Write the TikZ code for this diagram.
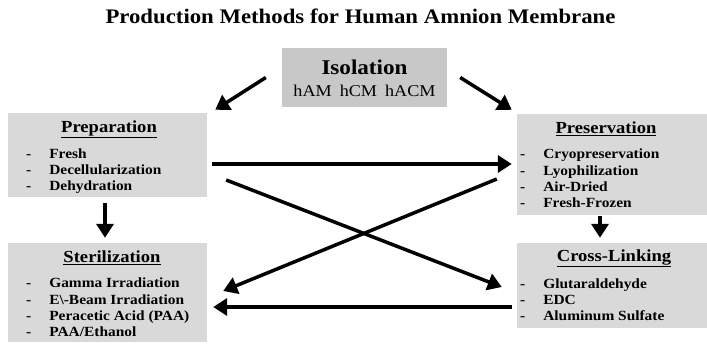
\documentclass[tikz,border=0pt]{standalone}
\usepackage{fontspec}
\setmainfont{Liberation Serif}[FakeStretch=1.1]
\usepackage{tikz}
\usetikzlibrary{arrows.meta}
\tikzset{
	grybox/.style={shape=rectangle,fill=boxgray,draw=none,inner sep=0pt},
	isobox/.style={shape=rectangle,fill=isogray,draw=none,inner sep=0pt},
	head/.style={shape=rectangle,inner sep=0pt,font=\fontsize{16.9}{19}\selectfont\bfseries},
	items/.style={shape=rectangle,inner sep=0pt,anchor=west,font=\fontsize{14}{16.2}\selectfont\bfseries},
	arr/.style={line width=3.5pt,-{Triangle[length=14pt,width=17pt]}}
}
\definecolor{boxgray}{RGB}{217,217,217}
\definecolor{isogray}{RGB}{200,200,200}
\newcommand{\lst}[1]{\begin{tabular}{@{}l@{\hspace{18pt}}l@{}}#1\end{tabular}}

\begin{document}
\begin{tikzpicture}[x=1pt,y=-1pt]
	\useasboundingbox (0,0) rectangle (707,343);
	\node[shape=rectangle,font=\fontsize{20.7}{24}\selectfont\bfseries](t) at (360.5,16) {Production Methods for Human Amnion Membrane};
	\node[isobox,minimum width=165,minimum height=59](iso) at (364.5,77.5) {};
	\node[grybox,minimum width=199,minimum height=84](prep) at (107.5,155) {};
	\node[grybox,minimum width=199,minimum height=99](ster) at (107.5,292.5) {};
	\node[grybox,minimum width=190,minimum height=101](pres) at (612,164.5) {};
	\node[grybox,minimum width=190,minimum height=85](cross) at (612,285.5) {};
	\node[shape=rectangle,inner sep=0pt,font=\fontsize{21}{22}\selectfont\bfseries](isot) at (364.5,67) {Isolation};
	\node[shape=rectangle,inner sep=0pt,font=\fontsize{16.5}{19}\selectfont](isol) at (364.5,91) {hAM\hspace{8pt}hCM\hspace{8pt}hACM};
	\node[head](prept) at (109,129) {\underline{Preparation}};
	\node[head](stert) at (112,258) {\underline{Sterilization}};
	\node[head](prest) at (606,129) {\underline{Preservation}};
	\node[head](crosst) at (614,258) {\underline{Cross-Linking}};
	\node[items](prepl) at (26,171.5) {\lst{- & Fresh\\ - & Decellularization\\ - & Dehydration}};
	\node[items](sterl) at (26,309) {\lst{- & Gamma Irradiation\\ - & E\textbackslash-Beam Irradiation\\ - & Peracetic Acid (PAA)\\ - & PAA/Ethanol}};
	\node[items](presl) at (520,180) {\lst{- & Cryopreservation\\ - & Lyophilization\\ - & Air-Dried\\ - & Fresh-Frozen}};
	\node[items](crossl) at (520,301) {\lst{- & Glutaraldehyde\\ - & EDC\\ - & Aluminum Sulfate}};
	\draw[arr] ([shift={(-16,0)}]iso.west) -- ([shift={(8,-3)}]prep.north east);
	\draw[arr] ([shift={(13,0)}]iso.east) -- ([shift={(-5,-4)}]pres.north west);
	\draw[arr] ([shift={(5,9)}]prep.east) -- ([shift={(-5,-0.5)}]pres.west);
	\draw[arr] ([shift={(19,25)}]prep.east) -- ([shift={(-15,1.5)}]cross.west);
	\draw[arr] ([shift={(-20,14.5)}]pres.west) -- ([shift={(16,-1.5)}]ster.east);
	\draw[arr] ([shift={(-5,21.5)}]cross.west) -- ([shift={(6,14.5)}]ster.east);
	\draw[arr] ([shift={(-2.5,6)}]prep.south) -- ([shift={(-2.5,-5)}]ster.north);
	\draw[arr] ([shift={(-12,1)}]pres.south) -- ([shift={(-12,-5)}]cross.north);
\end{tikzpicture}
\end{document}
